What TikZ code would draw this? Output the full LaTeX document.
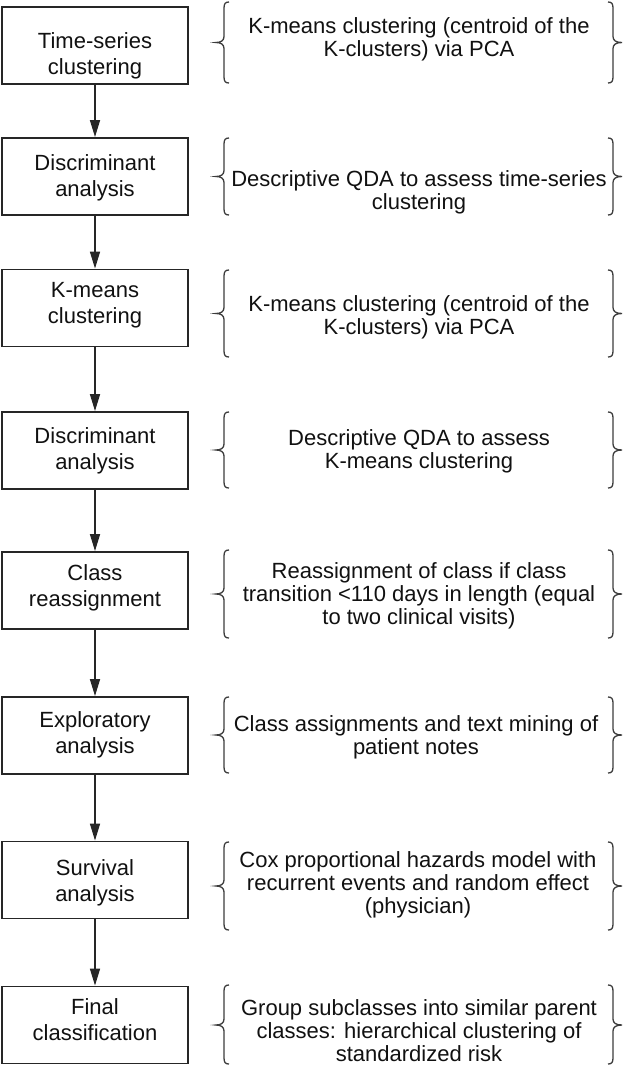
\documentclass[tikz,border=0pt]{standalone}
\usepackage{fontspec}
\setmainfont{Liberation Sans}
\usetikzlibrary{arrows.meta}
\definecolor{boxc}{HTML}{262626}
\definecolor{txt}{HTML}{111111}
\definecolor{brcol}{HTML}{3C3C3C}
\newcommand{\TS}{\rule{0pt}{16pt}}
\newcommand{\BS}{\rule[-5pt]{0pt}{5pt}}
% #1 top, #2 middle (tip), #3 bottom
\newcommand{\sidebraces}[3]{%
  \draw[brc] (229,#1) .. controls (225.5,#1) and (224,{#1+1.5}) .. (224,{#1+6})
    -- (224,{#2-6}) .. controls (224,{#2-2}) and (221,#2) .. (216,#2)
    .. controls (221,#2) and (224,{#2+2}) .. (224,{#2+6})
    -- (224,{#3-6}) .. controls (224,{#3-1.5}) and (225.5,#3) .. (229,#3);
  \draw[brc] (608,#1) .. controls (611.5,#1) and (613,{#1+1.5}) .. (613,{#1+6})
    -- (613,{#2-6}) .. controls (613,{#2-2}) and (616,#2) .. (622,#2)
    .. controls (616,#2) and (613,{#2+2}) .. (613,{#2+6})
    -- (613,{#3-6}) .. controls (613,{#3-1.5}) and (611.5,#3) .. (608,#3);
}
\begin{document}
\begin{tikzpicture}[x=1pt,y=-1pt,
  box/.style={draw=boxc, line width=1.9pt, minimum width=186pt, minimum height=77pt, inner sep=0pt},
  lbl/.style={align=center, inner sep=0pt, text=txt, font=\fontsize{22}{26}\selectfont},
  desc/.style={align=center, inner sep=0pt, text=txt, font=\fontsize{22}{23}\selectfont},
  arr/.style={draw=boxc, line width=1.6pt, -{Triangle[length=17pt,width=10pt]}},
  brc/.style={draw=brcol, line width=1.3pt}]
\useasboundingbox[fill=white] (0,0) rectangle (630,1066);

% boxes
\node[box] (b1) at (95,45.5) {};
\node[box] (b2) at (95,176.5) {};
\node[box] (b3) at (95,308) {};
\node[box] (b4) at (95,450.5) {};
\node[box] (b5) at (95,590.5) {};
\node[box] (b6) at (95,735.5) {};
\node[box] (b7) at (95,880) {};
\node[box] (b8) at (95,1025) {};

% box labels
\node[lbl] (l1) at (95,55.5) {\TS Time-series\\clustering\BS};
\node[lbl] (l2) at (95,178) {\TS Discriminant\\analysis\BS};
\node[lbl] (l3) at (95,304.5) {\TS K-means\\clustering\BS};
\node[lbl] (l4) at (95,451) {\TS Discriminant\\analysis\BS};
\node[lbl] (l5) at (95,588) {\TS Class\\reassignment\BS};
\node[lbl] (l6) at (95,735) {\TS Exploratory\\analysis\BS};
\node[lbl] (l7) at (95,883) {\TS Survival\\analysis\BS};
\node[lbl] (l8) at (95,1022) {\TS Final\\classification\BS};

% arrows
\draw[arr] (b1) -- (b2);
\draw[arr] (b2) -- (b3);
\draw[arr] (b3) -- (b4);
\draw[arr] (b4) -- (b5);
\draw[arr] (b5) -- (b6);
\draw[arr] (b6) -- (b7);
\draw[arr] (b7) -- (b8);

% braces
\sidebraces{2}{42.5}{83}
\sidebraces{138}{176.5}{215}
\sidebraces{270}{313.5}{357}
\sidebraces{412}{450}{488}
\sidebraces{550}{594}{638}
\sidebraces{697}{735}{773}
\sidebraces{842}{886}{930}
\sidebraces{985}{1025}{1064}

% descriptions
\node[desc] (t1) at (419,39) {\TS K-means clustering (centroid of the\\K-clusters) via PCA\BS};
\node[desc] (t2) at (419,192.5) {\TS Descriptive QDA to assess time-series\\clustering\BS};
\node[desc] (t3) at (419,317) {\TS K-means clustering (centroid of the\\K-clusters) via PCA\BS};
\node[desc] (t4) at (419,451.5) {\TS Descriptive QDA to assess\\K-means clustering\BS};
\node[desc] (t5) at (419,596) {\TS Reassignment of class if class\\transition {<}110 days in length (equal\\to two clinical visits)\BS};
\node[desc] (t6) at (416,737.5) {\TS Class assignments and text mining of\\patient notes\BS};
\node[desc] (t7) at (418,884.5) {\TS Cox proportional hazards model with\\recurrent events and random effect\\(physician)\BS};
\node[desc] (t8) at (419,1032.5) {\TS Group subclasses into similar parent\\classes: hierarchical clustering of\\standardized risk\BS};
\end{tikzpicture}
\end{document}
